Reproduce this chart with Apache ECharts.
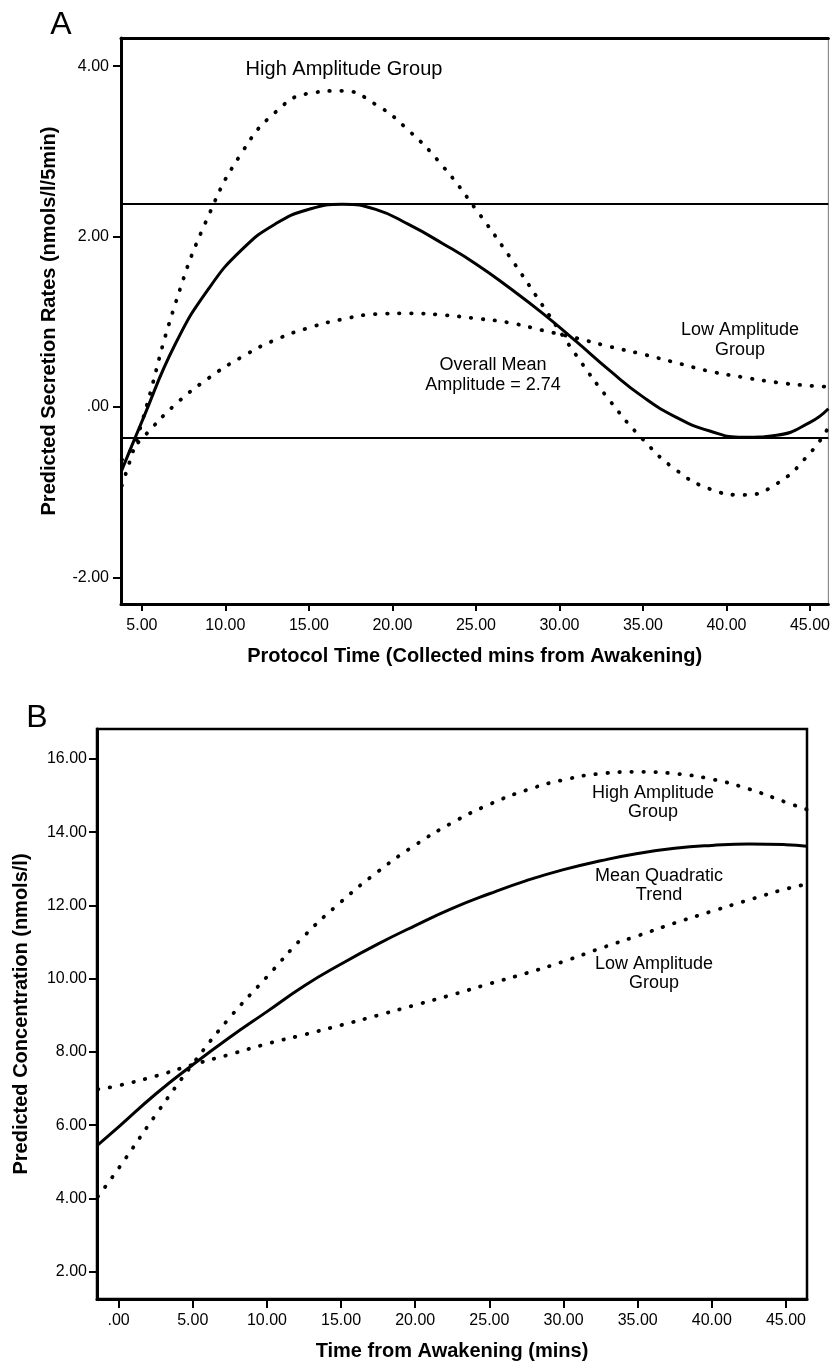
<!DOCTYPE html>
<html>
<head>
<meta charset="utf-8">
<script src="https://cdn.jsdelivr.net/npm/echarts@6.0.0/dist/echarts.min.js"></script>
<style>
  html, body { margin: 0; padding: 0; background: #fff; }
  #chart { width: 833px; height: 1365px; }
</style>
</head>
<body>
<div id="chart"></div>
<script>
// ---- panel A: predicted secretion rates ----
var timeA = [3.8, 5, 7, 9, 11, 13, 15, 17, 19, 21, 23, 25, 27, 29, 31, 33, 35, 37, 39, 41, 43, 45, 46.1];
var meanA = [-0.74, -0.17, 0.74, 1.39, 1.85, 2.15, 2.32, 2.38, 2.32, 2.14, 1.92, 1.68, 1.40, 1.10, 0.77, 0.43, 0.12, -0.12, -0.28, -0.355, -0.33, -0.18, -0.02];
var highA = [-0.92, -0.18, 1.21, 2.25, 2.99, 3.46, 3.68, 3.71, 3.55, 3.24, 2.83, 2.32, 1.77, 1.19, 0.61, 0.08, -0.38, -0.74, -0.96, -1.03, -0.90, -0.54, -0.24];
var lowA = [-0.62, -0.37, 0.03, 0.34, 0.59, 0.79, 0.93, 1.03, 1.09, 1.10, 1.08, 1.04, 0.99, 0.90, 0.81, 0.71, 0.62, 0.52, 0.42, 0.35, 0.29, 0.25, 0.24];
var refLinesA = [2.38, -0.36]; // peak and trough of the mean curve
var xTicksA = [5, 10, 15, 20, 25, 30, 35, 40, 45];
var yTicksA = [-2, 0, 2, 4];

// ---- panel B: predicted concentration ----
var timeB = [-1.4, 0, 2.5, 5, 7.5, 10, 12.5, 15, 17.5, 20, 22.5, 25, 27.5, 30, 32.5, 35, 37.5, 40, 42.5, 45, 46.4];
var meanB = [5.46, 5.95, 6.85, 7.65, 8.40, 9.10, 9.80, 10.40, 10.95, 11.45, 11.92, 12.32, 12.68, 12.98, 13.22, 13.42, 13.56, 13.64, 13.68, 13.66, 13.62];
var highB = [4.05, 4.82, 6.28, 7.67, 8.94, 10.05, 11.16, 12.10, 12.93, 13.65, 14.26, 14.76, 15.15, 15.43, 15.60, 15.65, 15.60, 15.45, 15.18, 14.82, 14.62];
var lowB = [6.98, 7.08, 7.34, 7.65, 7.93, 8.22, 8.47, 8.73, 9.00, 9.28, 9.56, 9.86, 10.15, 10.47, 10.83, 11.17, 11.52, 11.84, 12.15, 12.45, 12.58];
var xTicksB = [0, 5, 10, 15, 20, 25, 30, 35, 40, 45];
var yTicksB = [2, 4, 6, 8, 10, 12, 14, 16];

var FONT = 'Liberation Sans, Arial, sans-serif';

function pairs(t, v) {
  return t.map(function(x, i) { return [x, v[i]]; });
}
// SPSS style labels: ".00", "5.00", "-2.00"
function fmt(v) {
  var s = v.toFixed(2);
  return s === '0.00' ? '.00' : s;
}

function mainAxis(grid, min, max, ticks, name, gap, tickLen, margin) {
  return {
    type: 'value',
    gridIndex: grid,
    min: min,
    max: max,
    axisLine: { show: true, onZero: false, lineStyle: { color: '#000', width: 3 } },
    axisTick: { show: true, length: tickLen, customValues: ticks, lineStyle: { color: '#000', width: 2 } },
    axisLabel: { customValues: ticks, formatter: fmt, margin: margin, color: '#000', fontSize: 16, fontFamily: FONT },
    splitLine: { show: false },
    name: name,
    nameLocation: 'middle',
    nameGap: gap,
    nameTextStyle: { color: '#000', fontSize: 20, fontWeight: 'bold', fontFamily: FONT }
  };
}

// panel: 0 = A, 1 = B (x and y axis index are the same)
function curve(name, panel, data, dotted) {
  return {
    name: name,
    type: 'line',
    xAxisIndex: panel,
    yAxisIndex: panel,
    data: data,
    smooth: 0.5,
    showSymbol: false,
    clip: true,
    z: dotted ? 3 : 4,
    lineStyle: dotted
      ? { color: '#000', width: 3.8, type: [0.5, 11.5], cap: 'round' }
      : { color: '#000', width: 3 }
  };
}

var xA = mainAxis(0, 3.75, 46.1, xTicksA, 'Protocol Time (Collected mins from Awakening)', 42, 7, 14);
var yA = mainAxis(0, -2.31, 4.33, yTicksA, 'Predicted Secretion Rates (nmols/l/5min)', 62, 8, 12);
var xB = mainAxis(1, -1.46, 46.42, xTicksB, 'Time from Awakening (mins)', 42, 9, 14);
var yB = mainAxis(1, 1.25, 16.82, yTicksB, 'Predicted Concentration (nmols/l)', 66, 8, 10);

// top frame of panel A is as heavy as the axes
var topA = {
  type: 'value', gridIndex: 0, position: 'top', min: 3.75, max: 46.1,
  axisLine: { show: true, onZero: false, lineStyle: { color: '#000', width: 3 } },
  axisTick: { show: false }, axisLabel: { show: false }, splitLine: { show: false }
};

var meanSeriesA = curve('Overall Mean', 0, pairs(timeA, meanA), false);
meanSeriesA.markLine = {
  silent: true,
  symbol: ['none', 'none'],
  label: { show: false },
  lineStyle: { color: '#000', width: 2.2, type: 'solid' },
  data: refLinesA.map(function(v) { return { yAxis: v }; })
};

var chart = echarts.init(document.getElementById('chart'));
chart.setOption({
  animation: false,
  backgroundColor: '#fff',
  grid: [
    { left: 121, top: 38, width: 711, height: 566, show: true, borderColor: '#777', borderWidth: 1 },
    { left: 97, top: 729, width: 710, height: 570, show: true, borderColor: '#000', borderWidth: 2.5 }
  ],
  xAxis: [xA, xB, topA],
  yAxis: [yA, yB],
  series: [
    curve('High Amplitude Group', 0, pairs(timeA, highA), true),
    curve('Low Amplitude Group', 0, pairs(timeA, lowA), true),
    meanSeriesA,
    curve('High Amplitude Group', 1, pairs(timeB, highB), true),
    curve('Low Amplitude Group', 1, pairs(timeB, lowB), true),
    curve('Mean Quadratic Trend', 1, pairs(timeB, meanB), false)
  ],
  graphic: [
    { type: 'text', x: 61, y: 25, style: { text: 'A', font: '32px ' + FONT, fill: '#000', align: 'center', verticalAlign: 'middle' } },
    { type: 'text', x: 37, y: 718, style: { text: 'B', font: '32px ' + FONT, fill: '#000', align: 'center', verticalAlign: 'middle' } },
    { type: 'text', x: 344, y: 69, style: { text: 'High Amplitude Group', font: '20px ' + FONT, fill: '#000', align: 'center', verticalAlign: 'middle' } },
    { type: 'text', x: 493, y: 375, style: { text: 'Overall Mean\nAmplitude = 2.74', font: '18px ' + FONT, lineHeight: 20, fill: '#000', align: 'center', verticalAlign: 'middle' } },
    { type: 'text', x: 740, y: 340, style: { text: 'Low Amplitude\nGroup', font: '18px ' + FONT, lineHeight: 20, fill: '#000', align: 'center', verticalAlign: 'middle' } },
    { type: 'text', x: 653, y: 803, style: { text: 'High Amplitude\nGroup', font: '18px ' + FONT, lineHeight: 19, fill: '#000', align: 'center', verticalAlign: 'middle' } },
    { type: 'text', x: 659, y: 886, style: { text: 'Mean Quadratic\nTrend', font: '18px ' + FONT, lineHeight: 19, fill: '#000', align: 'center', verticalAlign: 'middle' } },
    { type: 'text', x: 654, y: 974, style: { text: 'Low Amplitude\nGroup', font: '18px ' + FONT, lineHeight: 19, fill: '#000', align: 'center', verticalAlign: 'middle' } }
  ]
});
</script>
</body>
</html>
